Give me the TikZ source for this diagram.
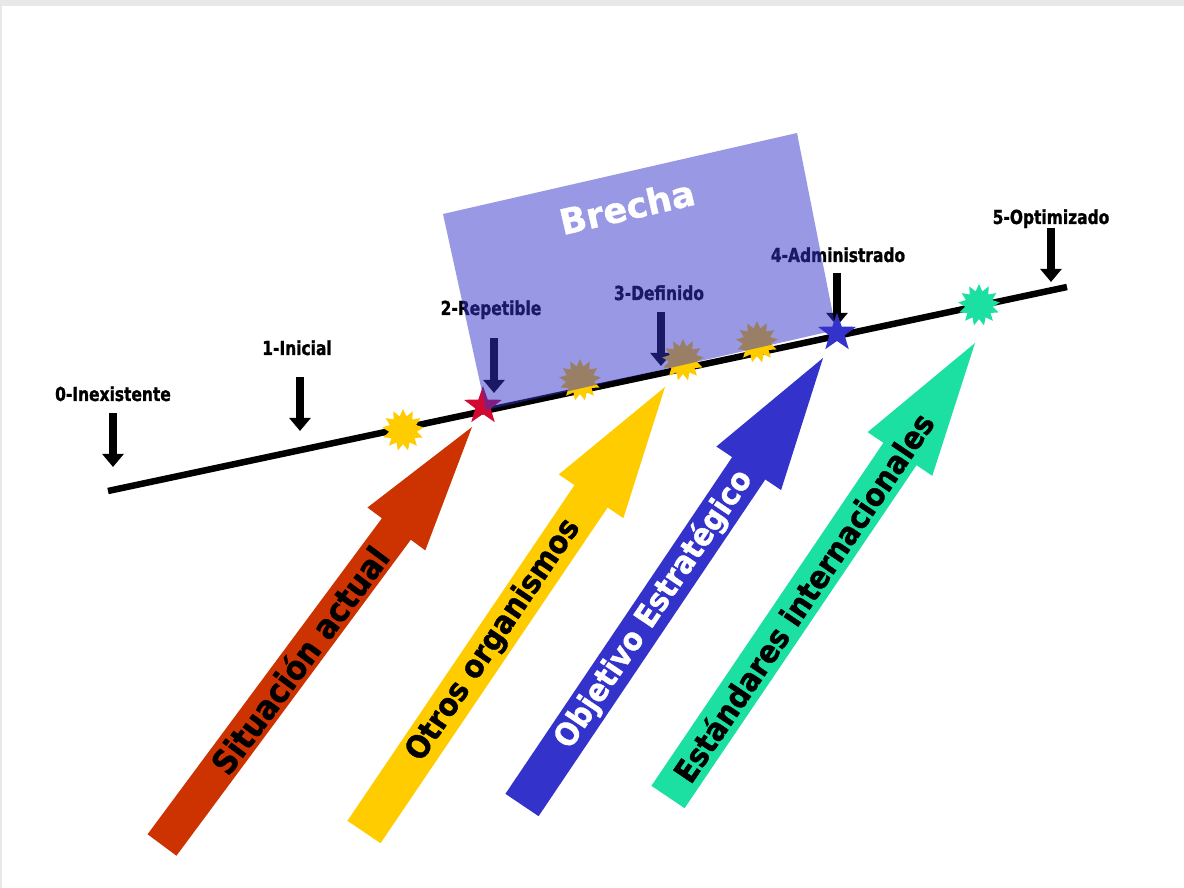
\documentclass[tikz,border=0pt]{standalone}
\usepackage{fontspec}
\setmainfont{DejaVu Sans}
\newfontfamily\levelfont[FakeStretch=0.8,BoldFeatures={FakeBold=1.2}]{DejaVu Sans}
\newfontfamily\arrowfont[FakeStretch=0.9,BoldFeatures={FakeBold=1.2}]{DejaVu Sans}
\newfontfamily\gapfont[BoldFeatures={FakeBold=1}]{DejaVu Sans}
\usetikzlibrary{calc,arrows.meta,shapes.geometric}

\definecolor{arrowred}{RGB}{204,51,0}
\definecolor{arrowyellow}{RGB}{255,204,0}
\definecolor{arrowblue}{RGB}{51,51,204}
\definecolor{arrowteal}{RGB}{28,224,162}
\definecolor{starred}{RGB}{210,10,50}
\definecolor{framegray}{RGB}{232,232,232}

% block arrow: tail centre, tip, half shaft width, half head width, head length, fill
\newcommand{\blockarr}[6]{%
  \coordinate (#1b) at ($(#2)!#5!(#1)$);
  \fill[#6] ($(#1)!#3!90:(#2)$) -- ($(#1b)!#3!90:(#2)$) -- ($(#1b)!#4!90:(#2)$)
    -- (#2) -- ($(#1b)!#4!-90:(#2)$) -- ($(#1b)!#3!-90:(#2)$)
    -- ($(#1)!#3!-90:(#2)$) -- cycle;
}

\begin{document}
\begin{tikzpicture}[x=0.02cm, y=-0.02cm,
  levelarrow/.style={line width=4.8pt, -{Triangle[width=12pt,length=7.5pt]}},
  levellabel/.style={font=\levelfont\bfseries\fontsize{11}{13}\selectfont, anchor=base, inner sep=0pt},
  arrowtext/.style={font=\arrowfont\bfseries\fontsize{18}{20}\selectfont, inner sep=0pt},
  burst/.style={star, star points=13, star point ratio=1.5, inner sep=0pt, minimum size=0.84cm},
  pentastar/.style={star, star points=5, star point ratio=2.5, inner sep=0pt, minimum size=0.8cm}]

\useasboundingbox (0,0) rectangle (1184,888);
\fill[white] (0,0) rectangle (1184,888);
\fill[framegray] (0,0) rectangle (1184,6);
\fill[framegray] (0,0) rectangle (2,888);

% maturity scale
\coordinate (s0) at (108,491);
\coordinate (s5) at (1067,287);
\draw[line width=3.7pt] (s0) -- (s5);

% level markers
\node[levellabel] (l0) at (113,401) {0-Inexistente};
\node[levellabel] (l1) at (297,355) {1-Inicial};
\node[levellabel] (l2) at (491,315) {2-Repetible};
\node[levellabel] (l3) at (659,300) {3-Definido};
\node[levellabel] (l4) at (838,262) {4-Administrado};
\node[levellabel] (l5) at (1051,224) {5-Optimizado};

\coordinate (a0s) at (113,413);  \coordinate (a0e) at (113,467);
\coordinate (a1s) at (300,377);  \coordinate (a1e) at (300,431);
\coordinate (a2s) at (494,338);  \coordinate (a2e) at (494,393);
\coordinate (a3s) at (661,312);  \coordinate (a3e) at (661,366);
\coordinate (a4s) at (837,273);  \coordinate (a4e) at (837,326);
\coordinate (a5s) at (1051,228); \coordinate (a5e) at (1051,282);
\foreach \i in {0,...,5} \draw[levelarrow] (a\i s) -- (a\i e);

% positions on the scale
\node[burst, fill=arrowyellow] (b1) at (403,430) {};
\node[burst, fill=arrowyellow] (b2) at (580,380) {};
\node[burst, fill=arrowyellow] (b3) at (683,360) {};
\node[burst, fill=arrowyellow] (b4) at (757,342) {};
\node[pentastar, fill=starred] (st2) at (483,406) {};

% gap band
\fill[arrowblue, opacity=0.5] (443,214) -- (797,133) -- (836,330) -- (486,410) -- cycle;
\node[text=white, font=\gapfont\bfseries\fontsize{20}{24}\selectfont, rotate=13] (gap) at (627,207) {Brecha};

\node[pentastar, fill=arrowblue] (st4) at (837,333) {};
\node[burst, fill=arrowteal] (b5) at (979,305) {};

% driving arrows
\coordinate (rt) at (162,845); \coordinate (rp) at (472,427);
\coordinate (yt) at (364,832); \coordinate (yp) at (665,387);
\coordinate (bt) at (522,805); \coordinate (bp) at (823,358);
\coordinate (tt) at (668,797); \coordinate (tp) at (975,343);

\blockarr{rt}{rp}{0.36cm}{0.72cm}{2.54cm}{arrowred}
\blockarr{yt}{yp}{0.4cm}{0.78cm}{2.64cm}{arrowyellow}
\blockarr{bt}{bp}{0.4cm}{0.78cm}{2.66cm}{arrowblue}
\blockarr{tt}{tp}{0.4cm}{0.78cm}{2.68cm}{arrowteal}

\path (rt) -- node[arrowtext, sloped, pos=0.443, font=\arrowfont\bfseries\fontsize{19}{21}\selectfont] (rtx) {Situación actual} (rp);
\path (yt) -- node[arrowtext, sloped, pos=0.431] (ytx) {Otros organismos} (yp);
\path (bt) -- node[arrowtext, sloped, pos=0.438, text=white] (btx) {Objetivo Estratégico} (bp);
\path (tt) -- node[arrowtext, sloped, pos=0.44] (ttx) {Estándares internacionales} (tp);

\end{tikzpicture}
\end{document}
